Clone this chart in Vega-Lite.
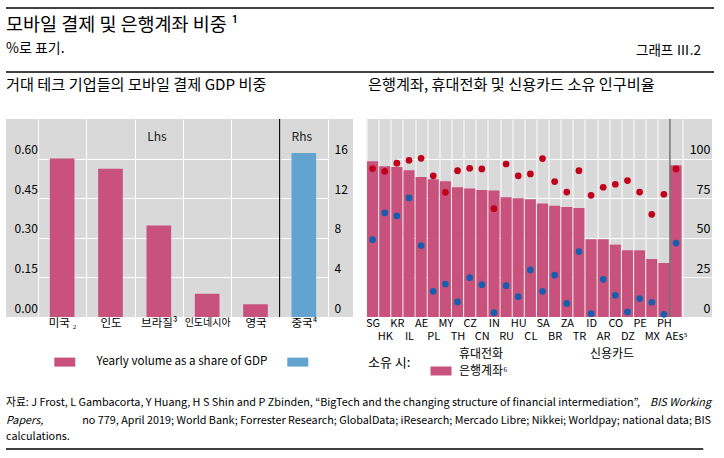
{
  "$schema": "https://vega.github.io/schema/vega-lite/v6.json",
  "background": "white",
  "padding": {"left": 5, "top": 7, "right": 0, "bottom": 0},
  "spacing": 5,
  "config": {
    "view": {"stroke": null},
    "font": "Noto Sans CJK KR",
    "axis": {"labelFont": "Noto Sans CJK KR", "labelColor": "#000"},
    "legend": {"labelFont": "Noto Sans CJK KR", "titleFont": "Noto Sans CJK KR", "labelColor": "#000", "titleColor": "#000"},
    "title": {"font": "Noto Sans CJK KR", "fontSize": 15.2, "fontWeight": "normal", "color": "#000", "anchor": "start", "offset": 25},
    "text": {"font": "Noto Sans CJK KR"}
  },
  "datasets": {
    "header": [
      {"part": "title", "text": "모바일 결제 및 은행계좌 비중 ¹"},
      {"part": "unit", "text": "%로 표기."},
      {"part": "graph", "text": "그래프 Ⅲ.2"}
    ],
    "footer": [
      {"part": "l1a", "text": "자료: J Frost, L Gambacorta, Y Huang, H S Shin and P Zbinden, “BigTech and the changing structure of financial intermediation”,"},
      {"part": "l1b", "text": "BIS Working"},
      {"part": "l2a", "text": "Papers,"},
      {"part": "l2b", "text": "no 779, April 2019; World Bank; Forrester Research; GlobalData; iResearch; Mercado Libre; Nikkei; Worldpay; national data; BIS"},
      {"part": "l3", "text": "calculations."}
    ],
    "gdp": [
      {"country": "미국", "value": 0.6, "side": "Lhs"},
      {"country": "인도", "value": 0.562, "side": "Lhs"},
      {"country": "브라질", "value": 0.347, "side": "Lhs"},
      {"country": "인도네시아", "value": 0.088, "side": "Lhs"},
      {"country": "영국", "value": 0.048, "side": "Lhs"},
      {"country": "중국", "value": 16.57, "side": "Rhs"}
    ],
    "own": [
      {"c": "SG", "bank": 98.3, "mobile": 93.7, "card": 48.8},
      {"c": "HK", "bank": 95.2, "mobile": 92.0, "card": 65.7},
      {"c": "KR", "bank": 94.7, "mobile": 97.1, "card": 63.8},
      {"c": "IL", "bank": 92.6, "mobile": 98.9, "card": 75.2},
      {"c": "AE", "bank": 88.4, "mobile": 100.2, "card": 45.1},
      {"c": "PL", "bank": 86.9, "mobile": 89.1, "card": 16.2},
      {"c": "MY", "bank": 85.7, "mobile": 78.7, "card": 20.8},
      {"c": "TH", "bank": 81.9, "mobile": 92.4, "card": 9.5},
      {"c": "CZ", "bank": 81.1, "mobile": 93.9, "card": 24.8},
      {"c": "CN", "bank": 80.2, "mobile": 93.5, "card": 20.4},
      {"c": "IN", "bank": 79.8, "mobile": 68.4, "card": 2.7},
      {"c": "RU", "bank": 75.6, "mobile": 96.6, "card": 19.8},
      {"c": "HU", "bank": 74.9, "mobile": 89.1, "card": 12.8},
      {"c": "CL", "bank": 74.3, "mobile": 90.3, "card": 29.7},
      {"c": "SA", "bank": 71.6, "mobile": 100.0, "card": 16.2},
      {"c": "BR", "bank": 70.3, "mobile": 85.5, "card": 26.5},
      {"c": "ZA", "bank": 69.5, "mobile": 78.9, "card": 8.6},
      {"c": "TR", "bank": 68.8, "mobile": 92.4, "card": 41.3},
      {"c": "ID", "bank": 49.1, "mobile": 76.8, "card": 2.1},
      {"c": "AR", "bank": 49.1, "mobile": 81.9, "card": 23.8},
      {"c": "CO", "bank": 45.7, "mobile": 83.8, "card": 13.7},
      {"c": "DZ", "bank": 42.1, "mobile": 86.1, "card": 3.2},
      {"c": "PE", "bank": 42.1, "mobile": 78.9, "card": 11.6},
      {"c": "MX", "bank": 36.6, "mobile": 64.8, "card": 9.3},
      {"c": "PH", "bank": 34.1, "mobile": 77.5, "card": 1.7},
      {"c": "AEs", "bank": 95.8, "mobile": 93.5, "card": 46.7}
    ]
  },
  "vconcat": [
    {
      "width": 708,
      "height": 64,
      "layer": [
        {
          "data": {"values": [{"line": "top"}]},
          "mark": {"type": "rule", "color": "#000", "strokeWidth": 1.5},
          "encoding": {
            "x": {"datum": 0, "type": "quantitative", "scale": {"domain": [0, 1], "nice": false, "zero": false}, "axis": null},
            "x2": {"datum": 1},
            "y": {"datum": 1, "type": "quantitative", "scale": {"domain": [0, 1], "nice": false, "zero": false}, "axis": null}
          }
        },
        {
          "data": {"values": [{"line": "bottom"}]},
          "mark": {"type": "rule", "color": "#000", "strokeWidth": 1.5},
          "encoding": {
            "x": {"datum": 0, "type": "quantitative"},
            "x2": {"datum": 1},
            "y": {"datum": 0, "type": "quantitative"}
          }
        },
        {
          "data": {"name": "header"},
          "transform": [{"filter": "datum.part == 'title'"}],
          "mark": {"type": "text", "align": "left", "baseline": "middle", "fontSize": 18.5, "color": "#000"},
          "encoding": {
            "x": {"datum": 0, "type": "quantitative"},
            "y": {"datum": 0.73, "type": "quantitative"},
            "text": {"field": "text"}
          }
        },
        {
          "data": {"name": "header"},
          "transform": [{"filter": "datum.part == 'unit'"}],
          "mark": {"type": "text", "align": "left", "baseline": "middle", "fontSize": 14, "color": "#000"},
          "encoding": {
            "x": {"datum": 0, "type": "quantitative"},
            "y": {"datum": 0.36, "type": "quantitative"},
            "text": {"field": "text"}
          }
        },
        {
          "data": {"name": "header"},
          "transform": [{"filter": "datum.part == 'graph'"}],
          "mark": {"type": "text", "align": "right", "baseline": "middle", "fontSize": 13.5, "color": "#000", "dx": -13},
          "encoding": {
            "x": {"datum": 1, "type": "quantitative"},
            "y": {"datum": 0.33, "type": "quantitative"},
            "text": {"field": "text"}
          }
        }
      ]
    },
    {
      "hconcat": [
        {
          "width": 347,
          "height": 198,
          "view": {"fill": "#D9D9D9", "stroke": null},
          "title": {"text": "거대 테크 기업들의 모바일 결제 GDP 비중"},
          "data": {"name": "gdp"},
          "layer": [
            {
              "transform": [{"filter": "datum.side == 'Lhs'"}],
              "mark": {"type": "bar", "width": {"band": 0.51}},
              "encoding": {
                "x": {
                  "field": "country", "type": "nominal", "title": null,
                  "scale": {"domain": ["미국", "인도", "브라질", "인도네시아", "영국", "중국"], "range": [32, 322], "paddingInner": 0, "paddingOuter": 0},
                  "axis": {
                    "tickBand": "extent", "grid": true, "gridColor": "#FFFFFF", "gridWidth": 1,
                    "ticks": false, "domain": false, "labelAngle": 0, "labelPadding": 0, "labelBaseline": "top",
                    "labelOverlap": false,
                    "labelFontSize": {"condition": {"test": "datum.value == '인도네시아'", "value": 10}, "value": 11.5},
                    "labelExpr": "datum.value == '미국' ? '미국 ₂' : datum.value == '브라질' ? '브라질³' : datum.value == '중국' ? '중국⁴' : datum.value"
                  }
                },
                "y": {
                  "field": "value", "type": "quantitative", "title": null,
                  "scale": {"domain": [0, 0.75], "nice": false},
                  "axis": {
                    "orient": "left", "values": [0, 0.15, 0.3, 0.45, 0.6], "format": ".2f",
                    "grid": true, "gridColor": "#FFFFFF", "ticks": false, "domain": false,
                    "labelAlign": "left", "labelPadding": -8, "labelBaseline": "alphabetic", "labelOffset": -5, "labelFontSize": 12
                  }
                },
                "color": {
                  "field": "side", "type": "nominal",
                  "scale": {"domain": ["Lhs", "Rhs"], "range": ["#C8527C", "#62A3D0"]},
                  "legend": {
                    "orient": "none", "legendX": 53, "legendY": 237, "direction": "horizontal", "title": null,
                    "symbolType": "M-2.33,-1H2.33V1H-2.33Z", "symbolSize": 81, "symbolStrokeWidth": 0,
                    "labelOffset": 26, "columnPadding": 19, "labelFontSize": 11.6, "labelLimit": 400,
                    "labelExpr": "datum.value == 'Lhs' ? 'Yearly volume as a share of GDP' : ''"
                  }
                }
              }
            },
            {
              "transform": [{"filter": "datum.side == 'Rhs'"}],
              "mark": {"type": "bar", "width": {"band": 0.51}},
              "encoding": {
                "x": {"field": "country", "type": "nominal"},
                "y": {
                  "field": "value", "type": "quantitative", "title": null,
                  "scale": {"domain": [0, 20], "nice": false},
                  "axis": {
                    "orient": "right", "values": [0, 4, 8, 12, 16],
                    "grid": false, "ticks": false, "domain": false,
                    "labelAlign": "left", "labelPadding": -19, "labelBaseline": "alphabetic", "labelOffset": -5, "labelFontSize": 12
                  }
                },
                "color": {"field": "side", "type": "nominal"}
              }
            },
            {
              "transform": [{"filter": "datum.side == 'Rhs'"}],
              "mark": {"type": "rule", "color": "#000", "strokeWidth": 1.2},
              "encoding": {
                "x": {"field": "country", "type": "nominal", "bandPosition": 0}
              }
            },
            {
              "data": {"values": [{"country": "브라질", "side": "Lhs"}, {"country": "중국", "side": "Rhs"}]},
              "mark": {"type": "text", "fontSize": 12, "color": "#222", "baseline": "middle", "dx": -2},
              "encoding": {
                "x": {"field": "country", "type": "nominal"},
                "y": {"datum": 0.682, "type": "quantitative", "scale": {"domain": [0, 0.75], "nice": false}, "axis": null},
                "text": {"field": "side"}
              }
            }
          ],
          "resolve": {"scale": {"y": "independent"}}
        },
        {
          "width": 345.5,
          "height": 198,
          "view": {"fill": "#D9D9D9", "stroke": null},
          "title": {"text": "은행계좌, 휴대전화 및 신용카드 소유 인구비율", "dx": 2.5},
          "data": {"name": "own"},
          "layer": [
            {
              "mark": {"type": "bar", "width": {"band": 0.91}},
              "encoding": {
                "x": {
                  "field": "c", "type": "nominal", "title": null,
                  "scale": {"domain": ["SG", "HK", "KR", "IL", "AE", "PL", "MY", "TH", "CZ", "CN", "IN", "RU", "HU", "CL", "SA", "BR", "ZA", "TR", "ID", "AR", "CO", "DZ", "PE", "MX", "PH", "AEs"], "range": [0, 315.6], "paddingInner": 0, "paddingOuter": 0},
                  "axis": {
                    "tickBand": "extent", "grid": true, "gridColor": "#FFFFFF", "gridWidth": 1,
                    "ticks": false, "domain": false, "labelAngle": 0, "labelOverlap": false,
                    "labelFontSize": 11, "labelBaseline": "top", "labelPadding": 0, "labelLineHeight": 13.5,
                    "labelExpr": "indexof(['HK','IL','PL','TH','CN','RU','CL','BR','TR','AR','DZ','MX','AEs'], datum.value) >= 0 ? ['', datum.value == 'AEs' ? 'AEs⁵' : datum.value] : datum.value"
                  }
                },
                "y": {
                  "field": "bank", "type": "quantitative", "title": null,
                  "scale": {"domain": [0, 125], "nice": false},
                  "axis": {
                    "orient": "right", "values": [0, 25, 50, 75, 100],
                    "grid": true, "gridColor": "#FFFFFF", "ticks": false, "domain": false,
                    "labelAlign": "right", "labelPadding": -2, "labelBaseline": "alphabetic", "labelOffset": -5, "labelFontSize": 12.5
                  }
                },
                "color": {
                  "datum": "bank", "type": "nominal",
                  "scale": {"domain": ["mobile", "card", "bank"], "range": ["#C0001A", "#185EAE", "#C8527C"]},
                  "legend": {
                    "orient": "none", "legendX": 1.5, "legendY": 229, "columns": 2, "direction": "horizontal",
                    "title": "소유 시:", "titleOrient": "left", "titleFontSize": 13, "titleFontWeight": "normal", "titlePadding": 24,
                    "symbolType": "M-2.33,-1H2.33V1H-2.33Z", "symbolSize": 81, "symbolStrokeWidth": 0,
                    "labelOffset": 12, "columnPadding": 53, "rowPadding": 5, "labelFontSize": 12,
                    "labelExpr": "datum.value == 'mobile' ? '휴대전화' : datum.value == 'card' ? '신용카드' : '은행계좌⁶'",
                    "encode": {"symbols": {"update": {"opacity": {"signal": "datum.value == 'bank' ? 1 : 0"}}}}
                  }
                }
              }
            },
            {
              "transform": [{"filter": "datum.c == 'AEs'"}],
              "mark": {"type": "rule", "color": "#333", "strokeWidth": 1},
              "encoding": {
                "x": {"field": "c", "type": "nominal", "bandPosition": 0}
              }
            },
            {
              "transform": [{"fold": ["mobile", "card"], "as": ["type", "pct"]}],
              "mark": {"type": "circle", "size": 45, "opacity": 1},
              "encoding": {
                "x": {"field": "c", "type": "nominal"},
                "y": {"field": "pct", "type": "quantitative"},
                "color": {"field": "type", "type": "nominal"}
              }
            }
          ]
        }
      ],
      "spacing": 12.5,
      "resolve": {"scale": {"color": "independent"}, "legend": {"color": "independent"}}
    },
    {
      "width": 705,
      "height": 67,
      "data": {"name": "footer"},
      "layer": [
        {
          "data": {"values": [{"line": "bottom"}]},
          "mark": {"type": "rule", "color": "#000", "strokeWidth": 1.5},
          "encoding": {
            "x": {"datum": 0, "type": "quantitative", "scale": {"domain": [0, 1], "nice": false, "zero": false}, "axis": null},
            "x2": {"datum": 0.989},
            "y": {"datum": 0, "type": "quantitative", "scale": {"domain": [0, 1], "nice": false, "zero": false}, "axis": null}
          }
        },
        {
          "transform": [{"filter": "datum.part == 'l1a'"}],
          "mark": {"type": "text", "align": "left", "baseline": "middle", "fontSize": 10.8, "color": "#000"},
          "encoding": {"x": {"datum": 0, "type": "quantitative"}, "y": {"datum": 0.687, "type": "quantitative"}, "text": {"field": "text"}}
        },
        {
          "transform": [{"filter": "datum.part == 'l1b'"}],
          "mark": {"type": "text", "align": "right", "baseline": "middle", "fontSize": 10.8, "fontStyle": "italic", "color": "#000"},
          "encoding": {"x": {"datum": 1, "type": "quantitative"}, "y": {"datum": 0.687, "type": "quantitative"}, "text": {"field": "text"}}
        },
        {
          "transform": [{"filter": "datum.part == 'l2a'"}],
          "mark": {"type": "text", "align": "left", "baseline": "middle", "fontSize": 10.8, "fontStyle": "italic", "color": "#000"},
          "encoding": {"x": {"datum": 0, "type": "quantitative"}, "y": {"datum": 0.418, "type": "quantitative"}, "text": {"field": "text"}}
        },
        {
          "transform": [{"filter": "datum.part == 'l2b'"}],
          "mark": {"type": "text", "align": "right", "baseline": "middle", "fontSize": 10.8, "color": "#000"},
          "encoding": {"x": {"datum": 1, "type": "quantitative"}, "y": {"datum": 0.418, "type": "quantitative"}, "text": {"field": "text"}}
        },
        {
          "transform": [{"filter": "datum.part == 'l3'"}],
          "mark": {"type": "text", "align": "left", "baseline": "middle", "fontSize": 10.8, "color": "#000"},
          "encoding": {"x": {"datum": 0, "type": "quantitative"}, "y": {"datum": 0.179, "type": "quantitative"}, "text": {"field": "text"}}
        }
      ]
    }
  ]
}
